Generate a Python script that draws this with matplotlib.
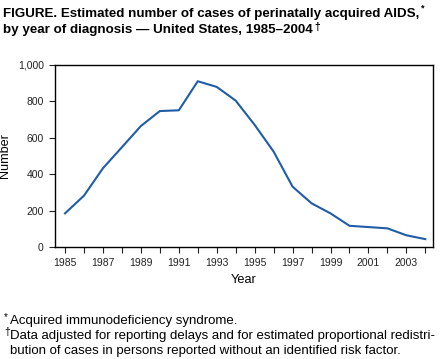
import matplotlib.pyplot as plt

plt.rcParams['font.family'] = ['Liberation Sans', 'DejaVu Sans']

years = list(range(1985, 2005))
cases = [186, 283, 433, 548, 664, 746, 750, 909, 878, 803,
         670, 524, 332, 241, 186, 118, 111, 104, 66, 45]
tick_years = list(range(1985, 2004, 2))

fig = plt.figure(figsize=(4.42, 3.59), dpi=100)
ax = fig.add_axes([0.1244, 0.311, 0.8546, 0.509])

ax.plot(years, cases, color='#1f5da6', lw=1.5)

ax.set_xlim(1984.47, 2004.39)
ax.set_ylim(0, 1000)
ax.set_xticks(years)
ax.set_xticklabels([str(y) if y in tick_years else '' for y in years])
ax.set_yticks(range(0, 1001, 200))
ax.set_yticklabels(['0', '200', '400', '600', '800', '1,000'])
ax.tick_params(direction='out', length=4, width=0.8, labelsize=7.5, colors='#222222', pad=4)
for s in ax.spines.values():
    s.set_linewidth(1.0)
ax.set_xlabel('Year', fontsize=9.2, labelpad=4)
ax.set_ylabel('Number', fontsize=9.1, labelpad=5)

# title with superscript marks placed right after each line
r = fig.canvas.get_renderer()
t1 = fig.text(0.007, 0.953, 'FIGURE. Estimated number of cases of perinatally acquired AIDS,',
              fontsize=9.6, fontweight='bold', va='baseline')
t2 = fig.text(0.007, 0.908, 'by year of diagnosis \u2014 United States, 1985\u20132004',
              fontsize=9.6, fontweight='bold', va='baseline')
for t, mark, dy, fs in [(t1, '*', 0.017, 6.5), (t2, '\u2020', 0.009, 7.5)]:
    bb = t.get_window_extent(r)
    x = fig.transFigure.inverted().transform((bb.x1, 0))[0]
    y = t.get_position()[1]
    fig.text(x + 0.003, y + dy, mark, fontsize=fs, fontweight='bold', va='baseline')

fig.text(0.009, 0.108, '*', fontsize=7, va='baseline')
fig.text(0.022, 0.0975, 'Acquired immunodeficiency syndrome.', fontsize=9.5, va='baseline')
fig.text(0.009, 0.067, '\u2020', fontsize=7.5, va='baseline')
fig.text(0.022, 0.0557, 'Data adjusted for reporting delays and for estimated proportional redistri-',
         fontsize=9.5, va='baseline')
fig.text(0.022, 0.0139, 'bution of cases in persons reported without an identified risk factor.',
         fontsize=9.5, va='baseline')

fig.savefig('out.png', dpi=100)
